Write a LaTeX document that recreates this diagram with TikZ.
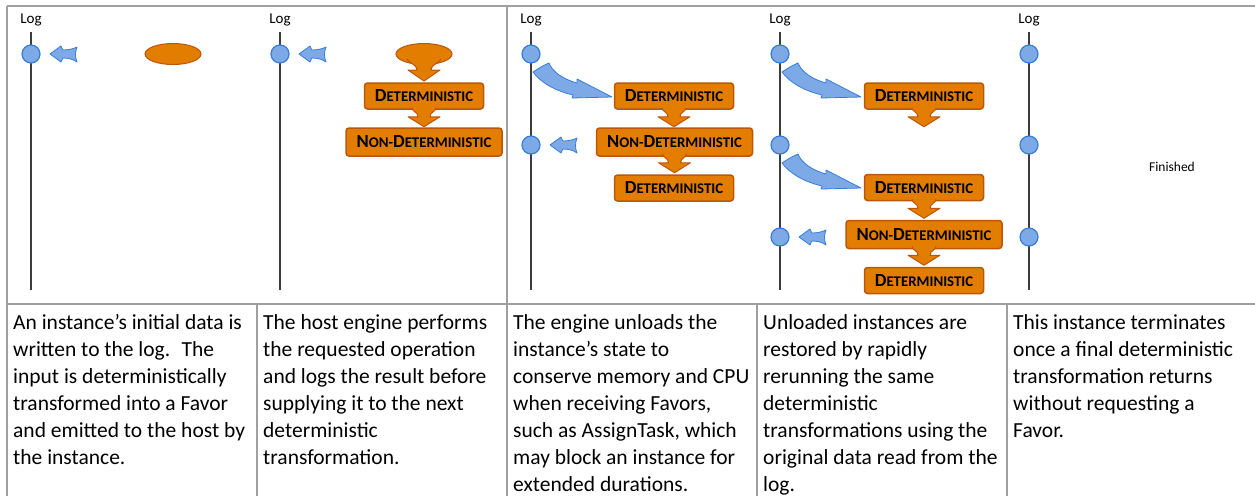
\documentclass[tikz,border=0pt]{standalone}
\usepackage{fontspec}
\setmainfont{Carlito}
\usetikzlibrary{calc,shapes.geometric}
\definecolor{ofill}{RGB}{226,125,0}
\definecolor{odraw}{RGB}{188,86,12}
\definecolor{bfill}{RGB}{125,170,230}
\definecolor{bdraw}{RGB}{55,125,215}
\definecolor{gridgray}{RGB}{160,160,160}
\definecolor{logdark}{RGB}{60,60,60}
\newcommand\smc[2]{{\fontsize{18.5}{18.5}\selectfont #1}{\fontsize{14.8}{14.8}\selectfont #2}}
\newcommand\DET{\smc{D}{ETERMINISTIC}}
\newcommand\NDET{\smc{N}{ON}{\fontsize{14.8}{14.8}\selectfont -}\smc{D}{ETERMINISTIC}}
\tikzset{
  gridline/.style={draw=gridgray, line width=1.5pt},
  logline/.style={draw=logdark, line width=1.2pt},
  dot/.style={circle, fill=bfill, draw=bdraw, line width=1.2pt, minimum size=18pt, inner sep=0pt},
  detbox/.style={rectangle, rounded corners=3pt, fill=ofill, draw=odraw, line width=1.5pt,
    minimum width=119pt, minimum height=26pt, inner sep=0pt, font=\bfseries},
  nondetbox/.style={detbox, minimum width=156pt, minimum height=28pt},
  seed/.style={ellipse, fill=ofill, draw=odraw, line width=1pt, minimum width=56pt, minimum height=21pt, inner sep=0pt},
  loglabel/.style={font=\fontsize{15}{15}\selectfont, inner sep=0pt},
  finlabel/.style={font=\fontsize{13.5}{13.5}\selectfont, inner sep=0pt},
  cell/.style={anchor=north west, align=left, inner sep=0pt, font=\fontsize{21.5}{27}\selectfont},
  pics/larrow/.style={code={
    \draw[fill=bfill, draw=bdraw, line width=0.8pt, line join=round]
      (0,0) -- (11,-8) .. controls (12,-6) and (12,-5) .. (13,-4)
      .. controls (18,-4) and (23,-5) .. (27,-7)
      .. controls (25,-2) and (25,3) .. (27,8)
      .. controls (23,5) and (18,4) .. (13,4)
      .. controls (12,5) and (12,6) .. (11,8) -- cycle;}},
  pics/carrow/.style={code={
    \draw[fill=bfill, draw=bdraw, line width=0.8pt, line join=round]
      (2,18) .. controls (8,14) and (13,11) .. (18,9)
      .. controls (21,17) and (31,25) .. (46,29) -- (46,25) -- (81,43) -- (41,44) -- (42,41)
      .. controls (25,37) and (10,29) .. cycle;}},
  pics/oarrow/.style={code={
    \fill[ofill] (0,0) -- (-16,-10) -- (-6,-10) .. controls (-6,-15) and (-12,-15) .. (-12,-19)
      -- (12,-19) .. controls (12,-15) and (6,-15) .. (6,-10) -- (16,-10) -- cycle;
    \draw[odraw, line width=1pt, line join=round]
      (-12,-19) .. controls (-12,-15) and (-6,-15) .. (-6,-10) -- (-16,-10) -- (0,0)
      -- (16,-10) -- (6,-10) .. controls (6,-15) and (12,-15) .. (12,-19);}},
  pics/sarrow/.style={code={
    \fill[ofill] (0,0) -- (-16,-11) -- (-7,-11) .. controls (-7,-17) and (-16,-18) .. (-17,-22)
      -- (17,-22) .. controls (16,-18) and (7,-17) .. (7,-11) -- (16,-11) -- cycle;
    \draw[odraw, line width=1pt, line join=round]
      (-17,-22) .. controls (-16,-18) and (-7,-17) .. (-7,-11) -- (-16,-11) -- (0,0)
      -- (16,-11) -- (7,-11) .. controls (7,-17) and (16,-18) .. (17,-22);}},
}
\begin{document}
\begin{tikzpicture}[x=1pt,y=-1pt]
\useasboundingbox (0,0) rectangle (1255,496);
% table grid
\draw[gridline] (7,6) -- (1255,6);
\draw[gridline] (7,304) -- (1255,304);
\draw[gridline] (7,6) -- (7,496);
\draw[gridline] (507,6) -- (507,496);
\draw[gridline] (257,304) -- (257,496);
\draw[gridline] (757,304) -- (757,496);
\draw[gridline] (1007,304) -- (1007,496);

% log lines and labels
\foreach \n/\x in {1/31,2/280,3/531,4/780,5/1029}{
  \node[loglabel] (log\n) at (\x,20) {Log};
  \coordinate (top\n) at (\x,32);
  \coordinate (bot\n) at (\x,290);
  \draw[logline] (top\n) -- (bot\n);
}

% column 1
\node[dot] (c11) at (31,54) {};
\pic at ($(c11)+(19,0)$) {larrow};
\node[seed] (e1) at (173,54) {};

% column 2
\node[dot] (c21) at (280,54) {};
\pic at ($(c21)+(19,0)$) {larrow};
\node[seed] (e2) at (424,54) {};
\node[detbox] (d21) at (424,96) {\DET};
\node[nondetbox] (n21) at (424,142) {\NDET};
\pic at ($(e2.south)+(0,16)$) {sarrow};
\pic at ($(d21.south)+(0,17)$) {oarrow};

% column 3
\node[dot] (c31) at (531,54) {};
\node[dot] (c32) at (531,145) {};
\pic at (c31) {carrow};
\pic at ($(c32)+(19,0)$) {larrow};
\node[detbox] (d31) at (674,96) {\DET};
\node[nondetbox] (n31) at (674.5,142) {\NDET};
\node[detbox] (d32) at (674,188) {\DET};
\pic at ($(d31.south)+(0,17)$) {oarrow};
\pic at ($(n31.south)+(0,16)$) {oarrow};

% column 4
\node[dot] (c41) at (780,54) {};
\node[dot] (c42) at (780,145) {};
\node[dot] (c43) at (780,237) {};
\pic at (c41) {carrow};
\pic at (c42) {carrow};
\pic at ($(c43)+(19,0)$) {larrow};
\node[detbox] (d41) at (924,96) {\DET};
\node[detbox] (d42) at (924,187.5) {\DET};
\node[nondetbox] (n41) at (924,234.5) {\NDET};
\node[detbox] (d43) at (924,280.5) {\DET};
\pic at ($(d41.south)+(0,17)$) {oarrow};
\pic at ($(d42.south)+(0,17)$) {oarrow};
\pic at ($(n41.south)+(0,16)$) {oarrow};

% column 5
\node[dot] (c51) at (1029,54) {};
\node[dot] (c52) at (1029,145) {};
\node[dot] (c53) at (1029,237) {};
\node[finlabel] (fin) at (1172,167) {Finished};

% text cells
\node[cell] (t1) at (13,310) {\strut An instance’s initial data is\\written to the log.~ The\\input is deterministically\\transformed into a Favor\\and emitted to the host by\\the instance.};
\node[cell] (t2) at (263,310) {\strut The host engine performs\\the requested operation\\and logs the result before\\supplying it to the next\\deterministic\\transformation.};
\node[cell] (t3) at (513,310) {\strut The engine unloads the\\instance’s state to\\conserve memory and CPU\\when receiving Favors,\\such as AssignTask, which\\may block an instance for\\extended durations.};
\node[cell] (t4) at (763,310) {\strut Unloaded instances are\\restored by rapidly\\rerunning the same\\deterministic\\transformations using the\\original data read from the\\log.};
\node[cell] (t5) at (1013,310) {\strut This instance terminates\\once a final deterministic\\transformation returns\\without requesting a\\Favor.};
\end{tikzpicture}
\end{document}
